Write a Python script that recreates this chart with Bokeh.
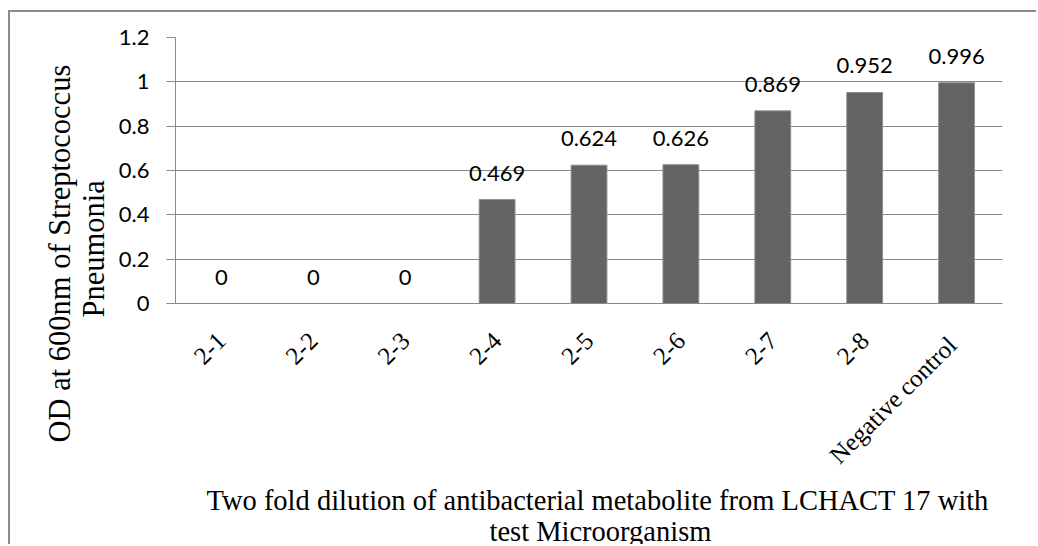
import math

from bokeh.core.properties import value
from bokeh.embed import file_html
from bokeh.models import (ColumnDataSource, FactorRange, FixedTicker, LabelSet,
                          NumeralTickFormatter, Range1d, Title)
from bokeh.plotting import figure
from bokeh.resources import INLINE

# ---- data -------------------------------------------------------------
dilutions = ["2-1", "2-2", "2-3", "2-4", "2-5", "2-6", "2-7", "2-8", "Negative  control"]
od_600 = [0, 0, 0, 0.469, 0.624, 0.626, 0.869, 0.952, 0.996]
y_ticks = [0, 0.2, 0.4, 0.6, 0.8, 1.0, 1.2]
y_title = ["OD at 600nm of Streptococcus", "Pneumonia"]
x_title = ["Two fold dilution of antibacterial metabolite from LCHACT 17 with",
           "test Microorganism"]

# ---- layout -----------------------------------------------------------
PAGE_W, PAGE_H = 1038, 546
BOX_X, BOX_Y, BOX_LINE = 8, 10, 2            # chart border offset on the page
W, H = PAGE_W - BOX_X - BOX_LINE, PAGE_H - BOX_Y - BOX_LINE
# plot frame in page pixels
LEFT, RIGHT, TOP, BOTTOM = 178, 1002, 37, 303
OX, OY = BOX_X + BOX_LINE, BOX_Y + BOX_LINE  # canvas origin on the page

GRID = "#8a8a8a"
BAR = "#636363"
SANS = "Lato"
SERIF = "Liberation Serif"

src = ColumnDataSource(dict(
    dilution=dilutions,
    od=od_600,
    label=[f"{v:g}" for v in od_600],
))

p = figure(
    width=W, height=H,
    x_range=FactorRange(*dilutions, range_padding=0),
    y_range=Range1d(0, 1.2),
    output_backend="svg",
    toolbar_location=None,
    min_border_left=0,
    min_border_right=W - (RIGHT - OX),
    min_border_top=TOP - OY,
    min_border_bottom=H - (BOTTOM - OY),
)
p.styles = {
    "margin-left": f"{BOX_X}px",
    "margin-top": f"{BOX_Y}px",
    "border-left": f"{BOX_LINE}px solid #8c8c8c",
    "border-top": f"{BOX_LINE}px solid #8c8c8c",
}
p.outline_line_color = None
p.background_fill_color = "white"
p.border_fill_color = "white"

# bars
p.vbar(x="dilution", top="od", width=0.39, source=src,
       fill_color=BAR, line_color="#8f8f8f", line_width=1)

# value labels above each bar
p.add_layout(LabelSet(
    x="dilution", y="od", text="label", source=src,
    text_align="center", text_baseline="alphabetic", y_offset=19,
    text_font=value(SANS), text_font_size="22px", text_color="black",
))

# y axis
p.yaxis.ticker = FixedTicker(ticks=y_ticks)
p.yaxis.formatter = NumeralTickFormatter(format="0.[0]")
p.yaxis.axis_line_color = GRID
p.yaxis.major_tick_line_color = GRID
p.yaxis.major_tick_out = 9
p.yaxis.major_tick_in = 0
p.yaxis.minor_tick_line_color = None
p.yaxis.major_label_standoff = 17
p.yaxis.major_label_text_font = SANS
p.yaxis.major_label_text_font_size = "22px"
p.yaxis.major_label_text_color = "black"

# x axis
p.xaxis.axis_line_color = GRID
p.xaxis.major_tick_line_color = None
p.xaxis.major_tick_out = 0
p.xaxis.major_tick_in = 0
p.xaxis.major_label_orientation = math.pi / 4
p.xaxis.major_label_standoff = 33
p.xaxis.major_label_text_font = SERIF
p.xaxis.major_label_text_font_size = "25px"
p.xaxis.major_label_text_color = "black"

# grid
p.xgrid.visible = False
p.ygrid.grid_line_color = GRID
p.ygrid.grid_line_width = 1

# axis titles, one Title per line, stacked outward from the frame;
# offsets place each line's start relative to the frame edge
for line, off, so in zip(reversed(y_title), (-14, -139), (10, -14)):
    p.add_layout(Title(
        text=line, align="left", offset=off, standoff=so,
        text_font=SERIF, text_font_size="30.5px", text_font_style="normal",
        text_color="black",
    ), "left")
# blank strip between the chart border and the y title
p.add_layout(Title(text=" ", text_font_size="1px", standoff=34), "left")

for line, off, so in zip(x_title, (31, 314), (2, -6)):
    p.add_layout(Title(
        text=line, align="left", offset=off, standoff=so,
        text_font=SERIF, text_font_size="28.5px", text_font_style="normal",
        text_color="black",
    ), "below")

open("out.html", "w").write(file_html(p, INLINE))
